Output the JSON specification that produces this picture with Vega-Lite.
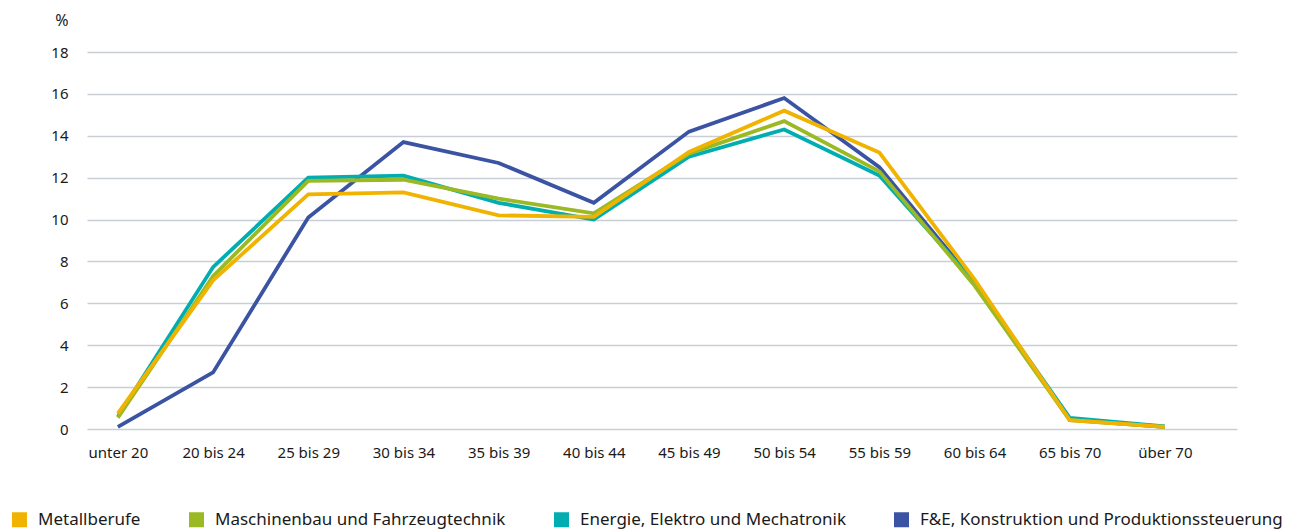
{
  "$schema": "https://vega.github.io/schema/vega-lite/v6.json",
  "width": 1150,
  "height": 377,
  "autosize": {"type": "none"},
  "padding": {"left": 87, "top": 52, "right": 62, "bottom": 100},
  "background": "white",
  "config": {
    "view": {"stroke": null},
    "font": "Noto Sans",
    "axis": {"labelFont": "Noto Sans", "labelColor": "#1a1a1a", "titleColor": "#1a1a1a"}
  },
  "data": {
    "values": [
      {"gruppe": "F&E, Konstruktion und Produktionssteuerung", "alter": "unter 20", "wert": 0.1},
      {"gruppe": "F&E, Konstruktion und Produktionssteuerung", "alter": "20 bis 24", "wert": 2.7},
      {"gruppe": "F&E, Konstruktion und Produktionssteuerung", "alter": "25 bis 29", "wert": 10.1},
      {"gruppe": "F&E, Konstruktion und Produktionssteuerung", "alter": "30 bis 34", "wert": 13.7},
      {"gruppe": "F&E, Konstruktion und Produktionssteuerung", "alter": "35 bis 39", "wert": 12.7},
      {"gruppe": "F&E, Konstruktion und Produktionssteuerung", "alter": "40 bis 44", "wert": 10.8},
      {"gruppe": "F&E, Konstruktion und Produktionssteuerung", "alter": "45 bis 49", "wert": 14.2},
      {"gruppe": "F&E, Konstruktion und Produktionssteuerung", "alter": "50 bis 54", "wert": 15.8},
      {"gruppe": "F&E, Konstruktion und Produktionssteuerung", "alter": "55 bis 59", "wert": 12.5},
      {"gruppe": "F&E, Konstruktion und Produktionssteuerung", "alter": "60 bis 64", "wert": 7.0},
      {"gruppe": "F&E, Konstruktion und Produktionssteuerung", "alter": "65 bis 70", "wert": 0.45},
      {"gruppe": "F&E, Konstruktion und Produktionssteuerung", "alter": "über 70", "wert": 0.1},
      {"gruppe": "Energie, Elektro und Mechatronik", "alter": "unter 20", "wert": 0.6},
      {"gruppe": "Energie, Elektro und Mechatronik", "alter": "20 bis 24", "wert": 7.73},
      {"gruppe": "Energie, Elektro und Mechatronik", "alter": "25 bis 29", "wert": 12.0},
      {"gruppe": "Energie, Elektro und Mechatronik", "alter": "30 bis 34", "wert": 12.1},
      {"gruppe": "Energie, Elektro und Mechatronik", "alter": "35 bis 39", "wert": 10.8},
      {"gruppe": "Energie, Elektro und Mechatronik", "alter": "40 bis 44", "wert": 10.0},
      {"gruppe": "Energie, Elektro und Mechatronik", "alter": "45 bis 49", "wert": 13.0},
      {"gruppe": "Energie, Elektro und Mechatronik", "alter": "50 bis 54", "wert": 14.3},
      {"gruppe": "Energie, Elektro und Mechatronik", "alter": "55 bis 59", "wert": 12.1},
      {"gruppe": "Energie, Elektro und Mechatronik", "alter": "60 bis 64", "wert": 7.0},
      {"gruppe": "Energie, Elektro und Mechatronik", "alter": "65 bis 70", "wert": 0.53},
      {"gruppe": "Energie, Elektro und Mechatronik", "alter": "über 70", "wert": 0.12},
      {"gruppe": "Maschinenbau und Fahrzeugtechnik", "alter": "unter 20", "wert": 0.54},
      {"gruppe": "Maschinenbau und Fahrzeugtechnik", "alter": "20 bis 24", "wert": 7.3},
      {"gruppe": "Maschinenbau und Fahrzeugtechnik", "alter": "25 bis 29", "wert": 11.85},
      {"gruppe": "Maschinenbau und Fahrzeugtechnik", "alter": "30 bis 34", "wert": 11.9},
      {"gruppe": "Maschinenbau und Fahrzeugtechnik", "alter": "35 bis 39", "wert": 11.0},
      {"gruppe": "Maschinenbau und Fahrzeugtechnik", "alter": "40 bis 44", "wert": 10.3},
      {"gruppe": "Maschinenbau und Fahrzeugtechnik", "alter": "45 bis 49", "wert": 13.15},
      {"gruppe": "Maschinenbau und Fahrzeugtechnik", "alter": "50 bis 54", "wert": 14.7},
      {"gruppe": "Maschinenbau und Fahrzeugtechnik", "alter": "55 bis 59", "wert": 12.3},
      {"gruppe": "Maschinenbau und Fahrzeugtechnik", "alter": "60 bis 64", "wert": 6.85},
      {"gruppe": "Maschinenbau und Fahrzeugtechnik", "alter": "65 bis 70", "wert": 0.42},
      {"gruppe": "Maschinenbau und Fahrzeugtechnik", "alter": "über 70", "wert": 0.1},
      {"gruppe": "Metallberufe", "alter": "unter 20", "wert": 0.75},
      {"gruppe": "Metallberufe", "alter": "20 bis 24", "wert": 7.1},
      {"gruppe": "Metallberufe", "alter": "25 bis 29", "wert": 11.2},
      {"gruppe": "Metallberufe", "alter": "30 bis 34", "wert": 11.3},
      {"gruppe": "Metallberufe", "alter": "35 bis 39", "wert": 10.2},
      {"gruppe": "Metallberufe", "alter": "40 bis 44", "wert": 10.13},
      {"gruppe": "Metallberufe", "alter": "45 bis 49", "wert": 13.23},
      {"gruppe": "Metallberufe", "alter": "50 bis 54", "wert": 15.2},
      {"gruppe": "Metallberufe", "alter": "55 bis 59", "wert": 13.2},
      {"gruppe": "Metallberufe", "alter": "60 bis 64", "wert": 7.15},
      {"gruppe": "Metallberufe", "alter": "65 bis 70", "wert": 0.42},
      {"gruppe": "Metallberufe", "alter": "über 70", "wert": 0.1}
    ]
  },
  "mark": {"type": "line", "strokeWidth": 3.8, "strokeJoin": "miter", "strokeCap": "butt"},
  "encoding": {
    "x": {
      "field": "alter",
      "type": "nominal",
      "sort": null,
      "scale": {"type": "point", "padding": 0.541, "align": 0.3},
      "axis": {
        "title": null,
        "labelAngle": 0,
        "labelFontSize": 15,
        "labelPadding": 16,
        "ticks": false,
        "domain": false,
        "grid": false
      }
    },
    "y": {
      "field": "wert",
      "type": "quantitative",
      "scale": {"domain": [0, 18], "nice": false},
      "axis": {
        "title": "%",
        "titleAngle": 0,
        "titleX": -19,
        "titleY": -32,
        "titleAlign": "right",
        "titleBaseline": "middle",
        "titleFontSize": 16,
        "titleFontWeight": "normal",
        "values": [0, 2, 4, 6, 8, 10, 12, 14, 16, 18],
        "labelFontSize": 15,
        "labelPadding": 19,
        "ticks": false,
        "domain": false,
        "grid": true,
        "gridColor": "#c8cdd6",
        "gridWidth": 1.5
      }
    },
    "color": {
      "field": "gruppe",
      "type": "nominal",
      "scale": {
        "domain": ["Metallberufe", "Maschinenbau und Fahrzeugtechnik", "Energie, Elektro und Mechatronik", "F&E, Konstruktion und Produktionssteuerung"],
        "range": ["#f0b400", "#9bb923", "#00aeb2", "#3a53a2"]
      },
      "legend": {
        "title": null,
        "orient": "none",
        "direction": "horizontal",
        "legendX": -76,
        "legendY": 459,
        "symbolType": "square",
        "symbolSize": 225,
        "labelFontSize": 17,
        "labelColor": "#1a1a1a",
        "labelOffset": 10,
        "columnPadding": 47,
        "labelLimit": 500,
        "encode": {
          "symbols": {
            "update": {
              "fill": {"scale": "color", "field": "value"},
              "strokeWidth": {"value": 0},
              "opacity": {"value": 1}
            }
          }
        }
      }
    }
  }
}
